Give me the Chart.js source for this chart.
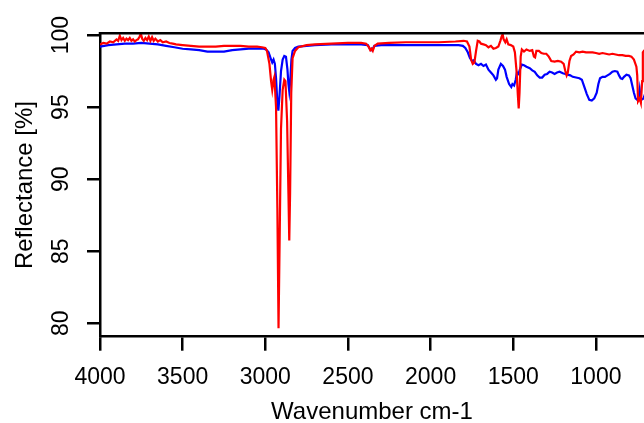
<!DOCTYPE html>
<html>
<head>
<meta charset="utf-8">
<script src="https://cdn.jsdelivr.net/npm/chart.js@4/dist/chart.umd.min.js"></script>
<style>
html,body{margin:0;padding:0;background:#fff;}
#wrap{width:644px;height:423px;}
</style>
</head>
<body>
<div id="wrap"><canvas id="c" width="644" height="423"></canvas></div>
<script>
// ---- data (wavenumber cm-1, reflectance %) ----
const redWn = [4000,3980,3960,3940,3920,3900,3890,3880,3870,3860,3850,3840,3830,3820,3810,3800,3790,3780,3770,3760,3753,3745,3735,3725,3715,3705,3695,3685,3675,3665,3650,3635,3620,3600,3580,3560,3540,3500,3450,3400,3350,3300,3250,3200,3150,3100,3050,3020,3000,2990,2975,2965,2958,2950,2945,2935,2927,2920,2913,2905,2895,2885,2878,2868,2860,2855,2850,2843,2835,2820,2800,2750,2700,2600,2500,2420,2390,2375,2365,2358,2350,2340,2320,2250,2150,2050,1950,1850,1800,1780,1765,1755,1745,1735,1725,1715,1705,1695,1680,1665,1650,1635,1620,1605,1590,1578,1570,1564,1558,1548,1540,1530,1515,1500,1490,1480,1472,1467,1462,1455,1448,1435,1420,1400,1385,1375,1368,1360,1345,1330,1315,1300,1285,1270,1250,1230,1210,1195,1185,1177,1170,1160,1150,1135,1120,1100,1080,1060,1040,1020,1000,980,960,940,920,900,880,860,840,820,800,785,770,755,750,745,735,728,720,716,710,700];
const redR  = [99.35,99.45,99.4,99.55,99.5,99.7,99.6,99.95,99.65,99.8,99.6,99.75,99.65,99.8,99.6,99.7,99.55,99.65,99.7,99.9,100.1,99.75,99.6,99.8,99.65,99.9,99.6,99.85,99.6,99.75,99.55,99.65,99.5,99.55,99.45,99.4,99.35,99.3,99.25,99.2,99.2,99.2,99.25,99.25,99.25,99.2,99.2,99.15,99.1,98.9,98.0,96.8,96.2,96.9,97.1,95.0,88.0,79.65,86.0,93.5,96.2,96.9,96.8,94.0,89.0,85.75,89.0,96.0,98.4,98.9,99.15,99.3,99.35,99.4,99.45,99.45,99.4,99.2,98.95,99.05,98.9,99.25,99.4,99.45,99.5,99.5,99.5,99.55,99.6,99.55,99.2,98.3,98.0,98.1,98.9,99.6,99.55,99.4,99.35,99.3,99.15,99.25,99.05,99.1,99.2,99.6,99.9,100.05,99.7,99.5,99.7,99.35,99.3,99.2,98.8,97.5,95.8,94.9,96.0,98.5,99.0,98.85,99.0,98.9,98.95,98.5,98.45,98.9,98.9,98.75,98.7,98.7,98.5,98.2,98.15,98.2,98.15,98.0,97.5,97.2,97.4,98.2,98.55,98.65,98.85,98.8,98.85,98.8,98.8,98.8,98.75,98.7,98.75,98.7,98.65,98.7,98.65,98.6,98.6,98.55,98.55,98.5,98.3,97.8,97.2,95.4,95.6,95.3,96.8,98.8,98.9,99.0];
const blueWn = [4000,3950,3900,3850,3800,3750,3700,3650,3600,3550,3500,3450,3400,3350,3300,3250,3200,3150,3100,3050,3010,2995,2980,2965,2958,2950,2942,2935,2928,2921,2914,2905,2895,2885,2875,2866,2860,2855,2849,2842,2835,2820,2800,2700,2600,2500,2420,2380,2368,2360,2350,2340,2300,2200,2100,2000,1900,1830,1805,1790,1775,1762,1750,1740,1725,1710,1695,1680,1665,1650,1635,1620,1605,1598,1590,1575,1562,1550,1540,1525,1512,1505,1495,1485,1478,1468,1460,1448,1435,1420,1400,1385,1370,1355,1340,1325,1310,1295,1280,1265,1250,1235,1220,1200,1185,1170,1155,1140,1120,1100,1085,1070,1055,1040,1025,1010,995,985,975,960,945,930,915,900,885,870,860,850,840,830,815,800,790,780,770,760,750,740,735,728,720,712,700];
const blueR  = [99.2,99.3,99.35,99.4,99.4,99.45,99.4,99.35,99.25,99.15,99.05,99.0,98.95,98.85,98.85,98.85,98.95,99.0,99.05,99.05,99.05,99.0,98.8,98.3,98.1,98.3,98.0,97.0,95.5,94.75,95.8,97.5,98.3,98.55,98.5,97.6,96.6,96.1,96.8,98.3,98.9,99.1,99.2,99.3,99.35,99.35,99.35,99.3,99.05,98.95,99.05,99.25,99.3,99.3,99.3,99.3,99.3,99.3,99.25,99.1,98.8,98.4,98.2,98.25,98.0,97.9,98.0,97.85,97.95,97.6,97.4,97.2,96.9,97.0,97.6,98.0,97.85,97.6,97.1,96.6,96.4,96.6,96.5,96.9,97.4,97.3,97.6,97.95,97.9,97.8,97.7,97.55,97.45,97.2,97.05,97.05,97.25,97.3,97.45,97.4,97.3,97.4,97.45,97.35,97.3,97.25,97.2,97.1,97.05,97.0,96.9,96.4,95.9,95.5,95.45,95.6,96.0,96.6,97.0,97.1,97.1,97.2,97.3,97.45,97.5,97.45,97.2,97.0,96.95,97.1,97.25,97.2,97.0,96.5,96.0,95.6,95.5,95.7,96.2,95.5,95.55,95.6,96.0];
const xTickVals = [1000,1500,2000,2500,3000,3500,4000];
const yTickVals = [80,85,90,95,100];
const xTitle = 'Wavenumber cm-1';
const yTitle = 'Reflectance [%]';

const FONT = '"Liberation Sans", Arial, sans-serif';

const boxPlugin = {
  id: 'boxPlugin',
  afterDraw(chart) {
    const ctx = chart.ctx, a = chart.chartArea, ys = chart.scales.y;
    ctx.save();
    ctx.strokeStyle = '#000';
    ctx.lineWidth = 2.5;
    ctx.beginPath();
    ctx.moveTo(a.left - 1.25, a.top);
    ctx.lineTo(a.right, a.top);
    ctx.stroke();
    ctx.fillStyle = '#000';
    ctx.font = '23px ' + FONT;
    ctx.textAlign = 'center';
    ctx.textBaseline = 'middle';
    yTickVals.forEach(v => {
      const py = ys.getPixelForValue(v);
      ctx.save();
      ctx.translate(62, py);
      ctx.rotate(-Math.PI / 2);
      ctx.fillText(String(v), 0, 0);
      ctx.restore();
    });
    ctx.restore();
  }
};

new Chart(document.getElementById('c'), {
  type: 'line',
  data: {
    datasets: [
      { label: 'red', data: redWn.map((x, i) => ({x, y: redR[i]})), borderColor: '#ff0000', borderWidth: 2.2, pointRadius: 0, tension: 0, fill: false },
      { label: 'blue', data: blueWn.map((x, i) => ({x, y: blueR[i]})), borderColor: '#0000ff', borderWidth: 2.2, pointRadius: 0, tension: 0, fill: false }
    ]
  },
  options: {
    responsive: false,
    animation: false,
    devicePixelRatio: 1,
    layout: { padding: { top: 33.3, right: 0, bottom: 0, left: 0 } },
    plugins: { legend: { display: false }, tooltip: { enabled: false } },
    scales: {
      x: {
        type: 'linear',
        reverse: true,
        min: 709,
        max: 4000,
        afterBuildTicks: s => { s.ticks = xTickVals.map(v => ({value: v})); },
        afterFit: s => { s.height = 86.3; },
        grid: { display: true, drawOnChartArea: false, drawTicks: true, tickLength: 14, color: '#000', lineWidth: 2.5 },
        border: { display: true, color: '#000', width: 2.5 },
        ticks: { color: '#000', font: { family: FONT, size: 23 }, padding: 13, maxRotation: 0, autoSkip: false, callback: v => String(v) },
        title: { display: true, text: xTitle, color: '#000', font: { family: FONT, size: 24, lineHeight: 1 }, padding: { top: 0, bottom: -1 } }
      },
      y: {
        type: 'linear',
        min: 79.07,
        max: 100.12,
        afterBuildTicks: s => { s.ticks = yTickVals.map(v => ({value: v})); },
        afterFit: s => { s.width = 100; },
        grid: { display: true, drawOnChartArea: false, drawTicks: true, tickLength: 13, color: '#000', lineWidth: 2.5 },
        border: { display: true, color: '#000', width: 2.5 },
        ticks: { display: false },
        title: { display: true, text: yTitle, color: '#000', font: { family: FONT, size: 24, lineHeight: 1 }, padding: { top: 13, bottom: 0 } }
      }
    }
  },
  plugins: [boxPlugin]
});
</script>
</body>
</html>
